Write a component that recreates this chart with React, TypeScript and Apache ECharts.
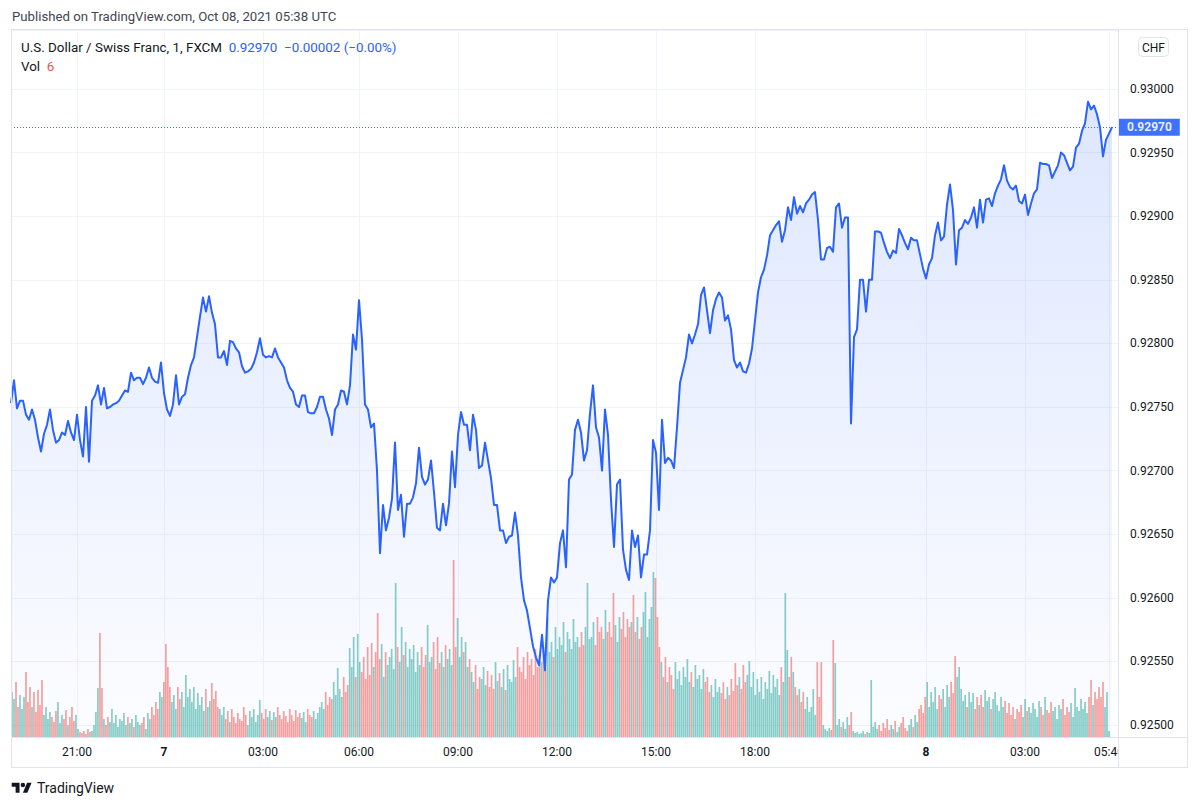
import React, { useEffect, useRef } from 'react';
import * as echarts from 'echarts';

// USD/CHF 1-minute closes (FXCM), Oct 6 evening to Oct 8 05:38 UTC
const prices = [
  0.92753, 0.92771, 0.92749, 0.92755, 0.92755, 0.92744, 0.92740, 0.92748, 0.92740, 0.92726,
  0.92715, 0.92729, 0.92736, 0.92748, 0.92732, 0.92722, 0.92724, 0.92730, 0.92728, 0.92739,
  0.92730, 0.92724, 0.92744, 0.92724, 0.92711, 0.92750, 0.92707, 0.92755, 0.92759, 0.92767,
  0.92752, 0.92765, 0.92749, 0.92750, 0.92752, 0.92753, 0.92755, 0.92759, 0.92763, 0.92762,
  0.92777, 0.92771, 0.92773, 0.92773, 0.92768, 0.92773, 0.92781, 0.92773, 0.92770, 0.92769,
  0.92785, 0.92761, 0.92748, 0.92743, 0.92752, 0.92775, 0.92752, 0.92758, 0.92760, 0.92773,
  0.92783, 0.92789, 0.92805, 0.92821, 0.92836, 0.92825, 0.92837, 0.92824, 0.92815, 0.92789,
  0.92789, 0.92794, 0.92783, 0.92802, 0.92801, 0.92796, 0.92793, 0.92782, 0.92777, 0.92778,
  0.92780, 0.92785, 0.92793, 0.92804, 0.92791, 0.92789, 0.92790, 0.92789, 0.92796, 0.92789,
  0.92785, 0.92781, 0.92771, 0.92765, 0.92762, 0.92752, 0.92750, 0.92759, 0.92759, 0.92746,
  0.92745, 0.92745, 0.92750, 0.92758, 0.92758, 0.92748, 0.92741, 0.92728, 0.92748, 0.92752,
  0.92763, 0.92762, 0.92752, 0.92767, 0.92807, 0.92795, 0.92834, 0.92803, 0.92752, 0.92748,
  0.92734, 0.92737, 0.92700, 0.92635, 0.92673, 0.92653, 0.92663, 0.92678, 0.92722, 0.92669,
  0.92681, 0.92648, 0.92674, 0.92674, 0.92679, 0.92690, 0.92718, 0.92695, 0.92689, 0.92693,
  0.92708, 0.92683, 0.92655, 0.92653, 0.92674, 0.92657, 0.92674, 0.92715, 0.92687, 0.92728,
  0.92746, 0.92736, 0.92736, 0.92716, 0.92744, 0.92732, 0.92702, 0.92704, 0.92722, 0.92708,
  0.92694, 0.92673, 0.92673, 0.92653, 0.92653, 0.92643, 0.92648, 0.92649, 0.92667, 0.92649,
  0.92616, 0.92598, 0.92590, 0.92576, 0.92562, 0.92553, 0.92547, 0.92571, 0.92543, 0.92598,
  0.92616, 0.92612, 0.92616, 0.92643, 0.92653, 0.92624, 0.92693, 0.92697, 0.92732, 0.92740,
  0.92730, 0.92708, 0.92716, 0.92745, 0.92767, 0.92734, 0.92726, 0.92700, 0.92748, 0.92728,
  0.92677, 0.92640, 0.92689, 0.92693, 0.92638, 0.92622, 0.92614, 0.92653, 0.92640, 0.92649,
  0.92616, 0.92634, 0.92634, 0.92653, 0.92724, 0.92714, 0.92669, 0.92740, 0.92706, 0.92710,
  0.92708, 0.92702, 0.92734, 0.92769, 0.92779, 0.92789, 0.92807, 0.92800, 0.92807, 0.92815,
  0.92838, 0.92844, 0.92826, 0.92808, 0.92826, 0.92835, 0.92840, 0.92836, 0.92818, 0.92822,
  0.92811, 0.92787, 0.92781, 0.92785, 0.92778, 0.92777, 0.92784, 0.92796, 0.92818, 0.92840,
  0.92852, 0.92858, 0.92869, 0.92885, 0.92889, 0.92893, 0.92896, 0.92880, 0.92889, 0.92907,
  0.92897, 0.92915, 0.92902, 0.92908, 0.92903, 0.92910, 0.92913, 0.92917, 0.92919, 0.92897,
  0.92866, 0.92866, 0.92875, 0.92876, 0.92872, 0.92907, 0.92910, 0.92891, 0.92899, 0.92899,
  0.92737, 0.92805, 0.92811, 0.92850, 0.92850, 0.92825, 0.92850, 0.92850, 0.92888, 0.92888,
  0.92887, 0.92879, 0.92872, 0.92867, 0.92873, 0.92871, 0.92890, 0.92885, 0.92879, 0.92874,
  0.92883, 0.92881, 0.92881, 0.92870, 0.92859, 0.92851, 0.92862, 0.92867, 0.92885, 0.92895,
  0.92881, 0.92884, 0.92909, 0.92925, 0.92905, 0.92862, 0.92889, 0.92891, 0.92897, 0.92894,
  0.92899, 0.92907, 0.92891, 0.92913, 0.92895, 0.92913, 0.92914, 0.92908, 0.92918, 0.92924,
  0.92929, 0.92940, 0.92928, 0.92923, 0.92921, 0.92924, 0.92912, 0.92910, 0.92917, 0.92901,
  0.92910, 0.92918, 0.92921, 0.92942, 0.92941, 0.92941, 0.92940, 0.92930, 0.92935, 0.92940,
  0.92950, 0.92948, 0.92942, 0.92936, 0.92939, 0.92954, 0.92957, 0.92967, 0.92973, 0.92990,
  0.92984, 0.92987, 0.92980, 0.92970, 0.92947, 0.92960, 0.92965, 0.92970,
];

// tick volume per bar
const volumes = [
  45, 38, 55, 30, 42, 28, 40, 65, 35, 50, 30, 45, 25, 47, 32, 57, 22, 30, 18, 25,
  20, 15, 26, 35, 14, 22, 18, 27, 12, 20, 30, 16, 22, 8, 5, 4, 6, 3, 8, 5,
  6, 12, 25, 49, 104, 49, 18, 12, 20, 15, 28, 14, 22, 10, 18, 16, 24, 12, 20, 14,
  18, 10, 22, 15, 12, 14, 20, 8, 24, 18, 30, 22, 35, 28, 45, 40, 55, 93, 70, 50,
  35, 42, 28, 50, 38, 45, 30, 62, 40, 48, 35, 50, 28, 44, 32, 40, 26, 48, 30, 36,
  54, 38, 46, 30, 28, 22, 30, 18, 26, 15, 28, 20, 14, 24, 18, 16, 30, 22, 12, 26,
  20, 28, 15, 22, 37, 24, 18, 28, 20, 26, 17, 25, 20, 30, 22, 18, 26, 21, 15, 28,
  22, 16, 27, 20, 24, 19, 25, 15, 28, 22, 20, 26, 18, 24, 30, 35, 28, 45, 32, 40,
  38, 55, 42, 69, 48, 40, 60, 45, 52, 89, 70, 100, 60, 103, 75, 65, 80, 58, 90, 62,
  94, 70, 85, 124, 78, 93, 60, 85, 72, 80, 88, 68, 154, 90, 75, 110, 82, 95, 70, 88,
  78, 92, 65, 85, 72, 90, 70, 82, 112, 75, 80, 95, 68, 100, 74, 85, 70, 92, 78, 88,
  72, 177, 90, 119, 80, 100, 85, 95, 70, 78, 65, 55, 72, 48, 60, 58, 70, 52, 66, 50,
  62, 48, 75, 56, 64, 50, 68, 47, 72, 58, 55, 77, 60, 90, 70, 65, 80, 58, 85, 72,
  78, 62, 88, 70, 82, 75, 90, 68, 120, 85, 95, 80, 110, 88, 100, 92, 115, 85, 105, 98,
  88, 118, 95, 100, 90, 105, 92, 110, 154, 98, 100, 115, 92, 120, 105, 110, 98, 127, 105, 115,
  100, 144, 112, 95, 120, 108, 125, 100, 118, 110, 115, 142, 105, 120, 98, 110, 125, 145, 100, 118,
  130, 165, 159, 120, 90, 75, 60, 80, 55, 70, 62, 48, 75, 58, 66, 52, 70, 60, 78, 55,
  65, 50, 72, 58, 62, 48, 68, 55, 60, 45, 52, 40, 58, 45, 50, 44, 55, 38, 50, 42,
  58, 46, 74, 52, 60, 48, 72, 55, 62, 76, 50, 65, 42, 58, 45, 60, 38, 55, 48, 66,
  44, 62, 50, 58, 42, 70, 55, 144, 87, 60, 80, 65, 50, 42, 48, 35, 45, 28, 40, 25,
  30, 48, 22, 75, 40, 75, 12, 8, 6, 9, 7, 97, 74, 12, 18, 10, 15, 8, 20, 12,
  25, 6, 4, 5, 3, 4, 6, 3, 5, 4, 57, 10, 15, 8, 12, 6, 14, 9, 18, 7,
  12, 8, 16, 5, 10, 14, 20, 9, 6, 12, 18, 10, 22, 15, 28, 32, 24, 40, 55, 30,
  45, 35, 50, 28, 42, 38, 48, 30, 52, 40, 55, 44, 81, 60, 70, 48, 36, 42, 30, 45,
  35, 44, 28, 40, 32, 42, 30, 47, 36, 40, 28, 38, 45, 32, 26, 40, 30, 36, 24, 34,
  22, 30, 18, 28, 25, 32, 20, 38, 26, 30, 24, 34, 28, 20, 36, 30, 22, 40, 27, 24,
  35, 26, 30, 18, 32, 28, 38, 22, 30, 25, 34, 20, 49, 30, 26, 38, 28, 35, 24, 40,
  57, 32, 45, 38, 50, 40, 55, 30, 45, 6,
];

const timeLabels = ['21:00', '7', '03:00', '06:00', '09:00', '12:00', '15:00', '18:00', '8', '03:00', '05:40'];
const timeLabelBars = [22, 51, 84, 116, 149, 182, 215, 248, 305, 338, 366];
const dayLabels = ['7', '8'];

const symbolTitle = 'U.S. Dollar / Swiss Franc, 1, FXCM';
const lastPrice = 0.9297;
const changeText = '\u22120.00002 (\u22120.00%)';
const lastVolume = 6;
const currency = 'CHF';
const publishedText = 'Published on TradingView.com, Oct 08, 2021 05:38 UTC';

const LOGO_D = 'M14 22H7V11H0V4h14v18zM28 22h-8l7.5-18h8L28 22zM24 8a4 4 0 1 1-8 0a4 4 0 1 1 8 0z';

export default function App() {
  const ref = useRef<HTMLDivElement>(null);

  useEffect(() => {
    if (!ref.current) return;
    echarts.graphic.registerShape('tvlogo', echarts.graphic.extendPath(LOGO_D, {}));
    const chart = echarts.init(ref.current, null, { renderer: 'svg' });

    const FONT = 'Roboto, "Noto Sans", sans-serif';
    const TEXT = '#131722';
    const GRID = '#f0f3fa';
    const BORDER = '#e0e3eb';
    const BLUE = '#2962ff';
    const UP = 'rgba(38,166,154,0.55)';
    const DOWN = 'rgba(239,83,80,0.55)';

    const labelIndex = new Map<number, string>();
    timeLabelBars.forEach((b, k) => labelIndex.set(b, timeLabels[k]));
    const showAt = (i: number) => labelIndex.has(i);

    const priceCats = Array.from({ length: prices.length + 2 }, (_, i) => String(i));
    const volCats = Array.from({ length: volumes.length + 4 }, (_, i) => String(i));

    const volData = volumes.map((v, j) => {
      const i = Math.min(prices.length - 1, Math.round((2 * j + 1) / 3));
      const up = prices[i] >= prices[Math.max(0, i - 1)];
      return { value: v, itemStyle: { color: up ? UP : DOWN } };
    });

    const option: any = {
      animation: false,
      backgroundColor: '#ffffff',
      textStyle: { fontFamily: FONT },
      grid: { left: 11, top: 30, width: 1107, height: 707, show: false },
      xAxis: [
        {
          type: 'category',
          data: priceCats,
          boundaryGap: false,
          axisLine: { show: false },
          axisTick: { show: false, interval: showAt },
          splitLine: { show: true, interval: showAt, lineStyle: { color: GRID, width: 1 } },
          axisLabel: {
            interval: showAt,
            margin: 9,
            color: TEXT,
            fontSize: 12,
            fontFamily: FONT,
            formatter: (_v: string, i: number) => {
              const s = labelIndex.get(i) || '';
              return dayLabels.includes(s) ? `{b|${s}}` : s;
            },
            rich: { b: { fontWeight: 'bold', fontSize: 12, color: TEXT, fontFamily: FONT } },
          },
        },
        {
          type: 'category',
          data: volCats,
          boundaryGap: true,
          show: false,
        },
      ],
      yAxis: [
        {
          type: 'value',
          position: 'right',
          min: 0.9249057,
          max: 0.9304638,
          splitNumber: 11,
          scale: true,
          axisLine: { show: false },
          axisTick: { show: false },
          splitLine: { lineStyle: { color: GRID, width: 1 } },
          axisLabel: {
            showMinLabel: false,
            showMaxLabel: false,
            margin: 12,
            color: TEXT,
            fontSize: 12,
            fontFamily: FONT,
            formatter: (v: number) => v.toFixed(5),
          },
        },
        { type: 'value', min: 0, max: 707, show: false, splitLine: { show: false } },
      ],
      series: [
        {
          type: 'line',
          xAxisIndex: 0,
          yAxisIndex: 0,
          data: prices,
          showSymbol: false,
          silent: true,
          z: 1,
          lineStyle: { opacity: 0, width: 0 },
          areaStyle: {
            color: new echarts.graphic.LinearGradient(0, 0, 0, 1, [
              { offset: 0, color: 'rgba(41,98,255,0.22)' },
              { offset: 1, color: 'rgba(41,98,255,0.02)' },
            ]),
          },
        },
        {
          type: 'bar',
          xAxisIndex: 1,
          yAxisIndex: 1,
          data: volData,
          barWidth: 1.7,
          silent: true,
          z: 2,
        },
        {
          type: 'line',
          xAxisIndex: 0,
          yAxisIndex: 0,
          data: prices,
          showSymbol: false,
          silent: true,
          z: 3,
          lineStyle: { color: BLUE, width: 2, join: 'round' },
          markLine: {
            silent: true,
            symbol: ['none', 'none'],
            precision: 5,
            animation: false,
            data: [{ yAxis: lastPrice }],
            lineStyle: { color: BLUE, type: [1, 2], width: 1, opacity: 0.9 },
            label: {
              show: true,
              position: 'end',
              distance: 1,
              formatter: () => lastPrice.toFixed(5),
              color: '#ffffff',
              backgroundColor: BLUE,
              padding: [3, 8, 2, 8],
              fontSize: 12,
              fontWeight: 'bold',
              fontFamily: FONT,
            },
          },
        },
      ],
      graphic: [
        {
          type: 'text',
          x: 12,
          y: 16,
          z: 100,
          style: { text: publishedText, fill: '#434651', font: `13.2px ${FONT}`, verticalAlign: 'middle', align: 'left' },
        },
        {
          type: 'text',
          x: 21,
          y: 47,
          z: 100,
          style: {
            text: `{a|${symbolTitle}}  {b|${lastPrice.toFixed(5)}  ${changeText}}`,
            font: `13.4px ${FONT}`,
            verticalAlign: 'middle',
            align: 'left',
            rich: {
              a: { fill: TEXT, fontSize: 13.4, fontFamily: FONT },
              b: { fill: BLUE, fontSize: 13.4, fontFamily: FONT },
            },
          },
        },
        {
          type: 'text',
          x: 21,
          y: 66,
          z: 100,
          style: {
            text: `{a|Vol}  {r|${lastVolume}}`,
            font: `13.4px ${FONT}`,
            verticalAlign: 'middle',
            align: 'left',
            rich: {
              a: { fill: TEXT, fontSize: 13.4, fontFamily: FONT },
              r: { fill: '#ef5350', fontSize: 13.4, fontFamily: FONT },
            },
          },
        },
        {
          type: 'rect',
          z: 100,
          shape: { x: 1119, y: 738, width: 68, height: 29 },
          style: { fill: '#ffffff' },
        },
        {
          type: 'rect',
          z: 101,
          shape: { x: 11.5, y: 29.5, width: 1176, height: 738 },
          style: { fill: 'none', stroke: BORDER, lineWidth: 1 },
        },
        {
          type: 'line',
          z: 101,
          shape: { x1: 1118.5, y1: 29.5, x2: 1118.5, y2: 767.5 },
          style: { stroke: BORDER, lineWidth: 1 },
        },
        {
          type: 'line',
          z: 101,
          shape: { x1: 11.5, y1: 737.5, x2: 1187.5, y2: 737.5 },
          style: { stroke: BORDER, lineWidth: 1 },
        },
        {
          type: 'rect',
          z: 101,
          shape: { x: 1138.5, y: 37.5, width: 30, height: 19, r: 4 },
          style: { fill: '#ffffff', stroke: BORDER, lineWidth: 1 },
        },
        {
          type: 'text',
          x: 1153.5,
          y: 47.5,
          z: 102,
          style: { text: currency, fill: TEXT, font: `12px ${FONT}`, align: 'center', verticalAlign: 'middle' },
        },
        {
          type: 'tvlogo',
          x: 11.7,
          y: 780.5,
          scaleX: 0.56,
          scaleY: 0.56,
          z: 100,
          style: { fill: TEXT },
        },
        {
          type: 'text',
          x: 37,
          y: 788,
          z: 100,
          style: { text: 'TradingView', fill: TEXT, font: `14px ${FONT}`, align: 'left', verticalAlign: 'middle' },
        },
      ],
    };

    chart.setOption(option);
    return () => chart.dispose();
  }, []);

  return (
    <div
      ref={ref}
      style={{ position: 'fixed', left: 0, top: 0, width: '1200px', height: '807px', background: '#ffffff' }}
    />
  );
}
